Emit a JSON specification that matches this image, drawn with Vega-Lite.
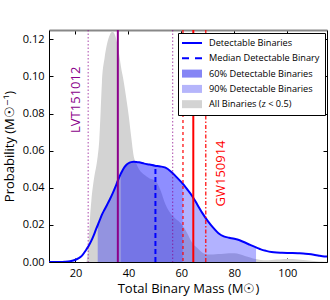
{
  "$schema": "https://vega.github.io/schema/vega-lite/v6.json",
  "width": 278,
  "height": 232,
  "autosize": "none",
  "padding": {"left": 49, "top": 30, "right": 3, "bottom": 38},
  "config": {
    "font": "Open Sans",
    "view": {"stroke": null},
    "axis": {"grid": false, "labelFont": "Open Sans", "labelFontSize": 11, "labelColor": "#000", "titleFont": "Open Sans", "titleFontSize": 13, "titleFontWeight": "normal", "titleColor": "#000", "domainColor": "#000", "tickColor": "#000", "tickSize": -4, "labelPadding": 9}
  },
  "datasets": {
    "curve": [
      {"m": 10, "detect": 0.0, "all": 0.0},
      {"m": 12, "detect": 0.0, "all": 0.0},
      {"m": 14, "detect": 0.0, "all": 0.0},
      {"m": 16, "detect": 0.0001, "all": 0.0},
      {"m": 18, "detect": 0.0004, "all": 0.0},
      {"m": 20, "detect": 0.0012, "all": 0.0},
      {"m": 22, "detect": 0.0028, "all": 0.0},
      {"m": 24, "detect": 0.0065, "all": 0.0},
      {"m": 24.5, "detect": 0.0076, "all": 0.003},
      {"m": 25, "detect": 0.0088, "all": 0.012},
      {"m": 25.5, "detect": 0.0101, "all": 0.024},
      {"m": 26, "detect": 0.0115, "all": 0.033},
      {"m": 27, "detect": 0.0148, "all": 0.045},
      {"m": 28, "detect": 0.0185, "all": 0.053},
      {"m": 28.4, "detect": 0.0198, "all": 0.057},
      {"m": 29, "detect": 0.022, "all": 0.066},
      {"m": 29.5, "detect": 0.0238, "all": 0.081},
      {"m": 30, "detect": 0.0255, "all": 0.097},
      {"m": 31, "detect": 0.0283, "all": 0.11},
      {"m": 32, "detect": 0.031, "all": 0.118},
      {"m": 33, "detect": 0.0338, "all": 0.1225},
      {"m": 34, "detect": 0.0368, "all": 0.124},
      {"m": 35, "detect": 0.0402, "all": 0.122},
      {"m": 36, "detect": 0.0438, "all": 0.116},
      {"m": 37, "detect": 0.0472, "all": 0.107},
      {"m": 37.2, "detect": 0.0478, "all": 0.105},
      {"m": 38, "detect": 0.05, "all": 0.099},
      {"m": 39, "detect": 0.052, "all": 0.09},
      {"m": 40, "detect": 0.0532, "all": 0.08},
      {"m": 41, "detect": 0.0538, "all": 0.068},
      {"m": 42, "detect": 0.054, "all": 0.057},
      {"m": 43, "detect": 0.0539, "all": 0.053},
      {"m": 44, "detect": 0.0537, "all": 0.05},
      {"m": 46, "detect": 0.053, "all": 0.047},
      {"m": 48, "detect": 0.0525, "all": 0.045},
      {"m": 50, "detect": 0.0519, "all": 0.044},
      {"m": 52, "detect": 0.0515, "all": 0.039},
      {"m": 54, "detect": 0.0508, "all": 0.031},
      {"m": 56, "detect": 0.0488, "all": 0.026},
      {"m": 58, "detect": 0.046, "all": 0.023},
      {"m": 60, "detect": 0.043, "all": 0.0205},
      {"m": 60.5, "detect": 0.0422, "all": 0.0195},
      {"m": 62, "detect": 0.0395, "all": 0.016},
      {"m": 64, "detect": 0.0357, "all": 0.0105},
      {"m": 66, "detect": 0.031, "all": 0.0075},
      {"m": 68, "detect": 0.0262, "all": 0.005},
      {"m": 70, "detect": 0.022, "all": 0.004},
      {"m": 72, "detect": 0.0185, "all": 0.0041},
      {"m": 74, "detect": 0.0155, "all": 0.0043},
      {"m": 76, "detect": 0.0138, "all": 0.0045},
      {"m": 78, "detect": 0.0131, "all": 0.0047},
      {"m": 80, "detect": 0.0125, "all": 0.0047},
      {"m": 82, "detect": 0.0117, "all": 0.0042},
      {"m": 84, "detect": 0.0105, "all": 0.0033},
      {"m": 86, "detect": 0.0092, "all": 0.0024},
      {"m": 88, "detect": 0.008, "all": 0.0016},
      {"m": 88.2, "detect": 0.0079, "all": 0.0016},
      {"m": 90, "detect": 0.0068, "all": 0.0011},
      {"m": 92, "detect": 0.006, "all": 0.001},
      {"m": 94, "detect": 0.0054, "all": 0.0011},
      {"m": 96, "detect": 0.0051, "all": 0.0013},
      {"m": 98, "detect": 0.005, "all": 0.0015},
      {"m": 100, "detect": 0.0049, "all": 0.0016},
      {"m": 102, "detect": 0.0048, "all": 0.0016},
      {"m": 104, "detect": 0.0047, "all": 0.0014},
      {"m": 106, "detect": 0.0046, "all": 0.0011},
      {"m": 108, "detect": 0.0043, "all": 0.0008},
      {"m": 110, "detect": 0.0039, "all": 0.0005},
      {"m": 112, "detect": 0.0034, "all": 0.0003},
      {"m": 114, "detect": 0.003, "all": 0.0002},
      {"m": 115, "detect": 0.0029, "all": 0.0001}
    ],
    "events": [
      {"m": 24.8, "ev": "LVT151012", "line": "lower"},
      {"m": 36.0, "ev": "LVT151012", "line": "best"},
      {"m": 56.7, "ev": "LVT151012", "line": "upper"},
      {"m": 60.6, "ev": "GW150914", "line": "lower"},
      {"m": 64.5, "ev": "GW150914", "line": "best"},
      {"m": 69.2, "ev": "GW150914", "line": "upper"}
    ]
  },
  "resolve": {"axis": {"x": "independent", "y": "independent"}},
  "layer": [
    {
      "data": {"name": "curve"},
      "mark": {"type": "area", "color": "#d3d3d3", "interpolate": "monotone", "clip": true},
      "encoding": {
        "x": {"field": "m", "type": "quantitative", "scale": {"domain": [10, 115], "nice": false, "zero": false}, "axis": {"orient": "bottom", "values": [20, 40, 60, 80, 100], "title": "Total Binary Mass (M☉)", "titlePadding": 4}},
        "y": {"field": "all", "type": "quantitative", "scale": {"domain": [0, 0.125], "nice": false}, "axis": {"orient": "left", "values": [0, 0.02, 0.04, 0.06, 0.08, 0.1, 0.12], "format": ".2f", "title": "Probability (M☉⁻¹)", "titlePadding": 6}}
      }
    },
    {
      "data": {"name": "curve"},
      "transform": [{"filter": "datum.m >= 28.4 && datum.m <= 88.2"}],
      "mark": {"type": "area", "color": "#0000ff", "opacity": 0.3, "interpolate": "monotone"},
      "encoding": {
        "x": {"field": "m", "type": "quantitative", "axis": {"orient": "top", "values": [20, 40, 60, 80, 100], "labels": false, "title": null, "domainColor": "#888", "domainWidth": 2}},
        "y": {"field": "detect", "type": "quantitative", "axis": {"orient": "right", "values": [0, 0.02, 0.04, 0.06, 0.08, 0.1, 0.12], "labels": false, "title": null}}
      }
    },
    {
      "data": {"name": "curve"},
      "transform": [{"filter": "datum.m >= 37.2 && datum.m <= 60.5"}],
      "mark": {"type": "area", "color": "#0000ff", "opacity": 0.2, "interpolate": "monotone"},
      "encoding": {
        "x": {"field": "m", "type": "quantitative", "axis": null},
        "y": {"field": "detect", "type": "quantitative", "axis": null}
      }
    },
    {
      "data": {"name": "curve"},
      "mark": {"type": "line", "color": "#0000ff", "strokeWidth": 2, "interpolate": "monotone", "clip": true},
      "encoding": {
        "x": {"field": "m", "type": "quantitative", "axis": null},
        "y": {"field": "detect", "type": "quantitative", "axis": null}
      }
    },
    {
      "data": {"values": [{"median": 50.2, "low": 0, "top": 0.0519}]},
      "mark": {"type": "rule", "color": "#0000ff", "strokeWidth": 2, "strokeDash": [5, 3]},
      "encoding": {
        "x": {"field": "median", "type": "quantitative", "axis": null},
        "y": {"field": "low", "type": "quantitative", "axis": null},
        "y2": {"field": "top"}
      }
    },
    {
      "data": {"name": "events"},
      "transform": [{"filter": "datum.ev == 'LVT151012' && datum.line != 'best'"}],
      "mark": {"type": "rule", "color": "#8b008b", "strokeWidth": 1.2, "strokeDash": [1.5, 2], "opacity": 0.6},
      "encoding": {"x": {"field": "m", "type": "quantitative", "axis": null}}
    },
    {
      "data": {"name": "events"},
      "transform": [{"filter": "datum.line == 'best'"}],
      "mark": {"type": "rule", "strokeWidth": 2},
      "encoding": {
        "x": {"field": "m", "type": "quantitative", "axis": null},
        "color": {"field": "ev", "type": "nominal", "scale": {"domain": ["LVT151012", "GW150914"], "range": ["#8b008b", "#ff0000"]}, "legend": null}
      }
    },
    {
      "data": {"name": "events"},
      "transform": [{"filter": "datum.ev == 'GW150914' && datum.line == 'lower'"}],
      "mark": {"type": "rule", "color": "#ff0000", "strokeWidth": 1.5, "strokeDash": [3, 3], "opacity": 0.8},
      "encoding": {"x": {"field": "m", "type": "quantitative", "axis": null}}
    },
    {
      "data": {"name": "events"},
      "transform": [{"filter": "datum.ev == 'GW150914' && datum.line == 'upper'"}],
      "mark": {"type": "rule", "color": "#ff0000", "strokeWidth": 1.5, "strokeDash": [4, 2, 1.5, 2], "opacity": 0.8},
      "encoding": {"x": {"field": "m", "type": "quantitative", "axis": null}}
    },
    {
      "data": {"values": [
        {"m": 20.3, "p": 0.0874, "ev": "LVT151012"},
        {"m": 75.0, "p": 0.0477, "ev": "GW150914"}
      ]},
      "mark": {"type": "text", "angle": 270, "fontSize": 13, "font": "Open Sans", "align": "center", "baseline": "middle"},
      "encoding": {
        "x": {"field": "m", "type": "quantitative", "axis": null},
        "y": {"field": "p", "type": "quantitative", "axis": null},
        "text": {"field": "ev", "type": "nominal"},
        "color": {"field": "ev", "type": "nominal", "scale": {"domain": ["LVT151012", "GW150914"], "range": ["#8b008b", "#ff0000"]}, "legend": null}
      }
    },
    {
      "data": {"values": [
        {"entry": "Detectable Binaries"},
        {"entry": "Median Detectable Binary"},
        {"entry": "60% Detectable Binaries"},
        {"entry": "90% Detectable Binaries"},
        {"entry": "All Binaries (z < 0.5)"}
      ]},
      "mark": {"type": "point", "filled": true, "fillOpacity": 0, "strokeOpacity": 0, "size": 100},
      "encoding": {
        "fill": {"field": "entry", "type": "nominal",
          "scale": {"domain": ["Detectable Binaries", "Median Detectable Binary", "60% Detectable Binaries", "90% Detectable Binaries", "All Binaries (z < 0.5)"], "range": ["#0000ff", "#0000ff", "#8585f5", "#b5b5fb", "#d3d3d3"]},
          "legend": {"title": null, "orient": "none", "legendX": 129, "legendY": 3, "padding": 5, "fillColor": "#fff", "strokeColor": "#000", "symbolStrokeWidth": 0, "symbolSize": 100, "symbolOffset": 4, "labelFont": "Open Sans", "labelFontSize": 9.2, "labelColor": "#000", "labelLimit": 200, "labelOffset": 12, "rowPadding": 4.3}},
        "shape": {"field": "entry", "type": "nominal",
          "scale": {"domain": ["Detectable Binaries", "Median Detectable Binary", "60% Detectable Binaries", "90% Detectable Binaries", "All Binaries (z < 0.5)"], "range": ["M-2,-0.2H2V0.2H-2Z", "M-2,-0.2H-0.6V0.2H-2Z M0.6,-0.2H2V0.2H0.6Z", "M-2,-0.8H2V0.8H-2Z", "M-2,-0.8H2V0.8H-2Z", "M-2,-0.8H2V0.8H-2Z"]}}
      }
    }
  ]
}
